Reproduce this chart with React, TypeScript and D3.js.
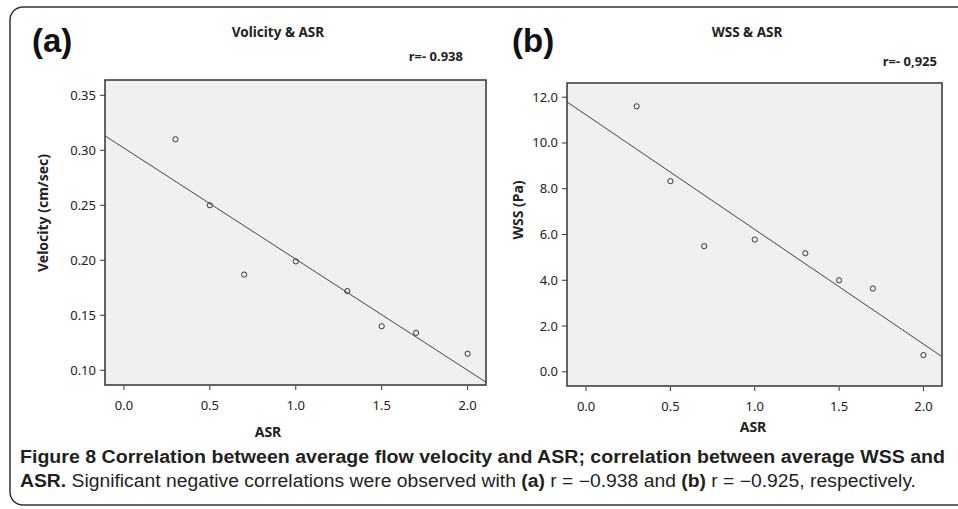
import React from "react";
import * as d3 from "d3";

const asr = [0.3, 0.5, 0.7, 1.0, 1.3, 1.5, 1.7, 2.0];
const velocity = [0.31, 0.25, 0.187, 0.199, 0.172, 0.14, 0.134, 0.115];
const wss = [11.6, 8.33, 5.49, 5.78, 5.18, 4.0, 3.64, 0.73];
const xTicks = [0.0, 0.5, 1.0, 1.5, 2.0];
const velTicks = [0.1, 0.15, 0.2, 0.25, 0.3, 0.35];
const wssTicks = [0, 2, 4, 6, 8, 10, 12];

const FONT = "'Noto Sans', 'Open Sans', sans-serif";
const CAP = "'Liberation Sans Narrow', 'Liberation Sans', Arial, sans-serif";

function fit(xs: number[], ys: number[]) {
  const mx = d3.mean(xs)!;
  const my = d3.mean(ys)!;
  let sxy = 0, sxx = 0;
  xs.forEach((x, i) => { sxy += (x - mx) * (ys[i] - my); sxx += (x - mx) ** 2; });
  const b = sxy / sxx;
  return { b, a: my - b * mx };
}

type PanelProps = {
  id: string; left: number; right: number; top: number; bottom: number;
  xDom: [number, number]; yDom: [number, number]; ys: number[]; yTicks: number[];
  yFmt: string; title: string; titleX: number; yTitle: string; yTitleX: number; yTitleY: number;
  xTitleX: number; xTitleY: number; label: string; labelX: number; rText: string; rX: number; rY: number;
};

function Panel(p: PanelProps) {
  const x = d3.scaleLinear().domain(p.xDom).range([p.left, p.right]);
  const y = d3.scaleLinear().domain(p.yDom).range([p.bottom, p.top]);
  const { a, b } = fit(asr, p.ys);
  const line = d3.line<number>().x(d => x(d)).y(d => y(a + b * d));
  const fmt = d3.format(p.yFmt);
  const fx = d3.format(".1f");
  return (
    <g>
      <defs>
        <clipPath id={"clip" + p.id}>
          <rect x={p.left} y={p.top} width={p.right - p.left} height={p.bottom - p.top} />
        </clipPath>
      </defs>
      <rect x={p.left} y={p.top} width={p.right - p.left} height={p.bottom - p.top} fill="#f0f0f0" stroke="#333" strokeWidth={1.5} />
      <path d={line(p.xDom) || ""} stroke="#444" strokeWidth={1} fill="none" clipPath={`url(#clip${p.id})`} />
      {asr.map((v, i) => (
        <circle key={i} cx={x(v)} cy={y(p.ys[i])} r={2.6} fill="none" stroke="#333" strokeWidth={1} />
      ))}
      {p.yTicks.map(t => (
        <g key={t}>
          <line x1={p.left - 5} x2={p.left} y1={y(t)} y2={y(t)} stroke="#333" strokeWidth={1} />
          <text x={p.left - 9} y={y(t) + 4.5} textAnchor="end" fontFamily={FONT} fontSize={13} fill="#222">{fmt(t)}</text>
        </g>
      ))}
      {xTicks.map(t => (
        <g key={t}>
          <line x1={x(t)} x2={x(t)} y1={p.bottom + 1} y2={p.bottom + 5} stroke="#333" strokeWidth={1} />
          <text x={x(t)} y={p.bottom + 25} textAnchor="middle" fontFamily={FONT} fontSize={13} fill="#222">{fx(t)}</text>
        </g>
      ))}
      <text x={p.titleX} y={37} textAnchor="middle" fontFamily={FONT} fontSize={13.5} fontWeight="bold" fill="#222">{p.title}</text>
      <text x={p.rX} y={p.rY} textAnchor="end" fontFamily={FONT} fontSize={13} fontWeight="bold" fill="#222">{p.rText}</text>
      <text transform={`translate(${p.yTitleX},${p.yTitleY}) rotate(-90)`} textAnchor="middle" fontFamily={FONT} fontSize={14} fontWeight="bold" fill="#222">{p.yTitle}</text>
      <text x={p.xTitleX} y={p.xTitleY} textAnchor="middle" fontFamily={FONT} fontSize={14} fontWeight="bold" fill="#222">ASR</text>
      <text x={p.labelX} y={52} fontFamily="'Liberation Sans', Arial, sans-serif" fontSize={33} fontWeight="bold" fill="#111">{p.label}</text>
    </g>
  );
}

export default function App() {
  return (
    <svg width={958} height={509} style={{ position: "absolute", left: 0, top: 0, background: "#fff" }}>
      <rect x={10} y={7} width={970} height={498} rx={13} fill="#fff" stroke="#333" strokeWidth={1.5} />
      <Panel id="a" left={105} right={486} top={80} bottom={385} xDom={[-0.11, 2.107]} yDom={[0.0866, 0.3639]}
        ys={velocity} yTicks={velTicks} yFmt=".2f" title="Volicity & ASR" titleX={278}
        yTitle="Velocity (cm/sec)" yTitleX={48} yTitleY={213} xTitleX={268} xTitleY={437}
        label="(a)" labelX={32} rText="r=- 0.938" rX={463} rY={61} />
      <Panel id="b" left={567} right={942} top={83} bottom={386} xDom={[-0.113, 2.11]} yDom={[-0.62, 12.62]}
        ys={wss} yTicks={wssTicks} yFmt=".1f" title="WSS & ASR" titleX={747}
        yTitle="WSS (Pa)" yTitleX={523} yTitleY={210} xTitleX={753} xTitleY={432}
        label="(b)" labelX={512} rText="r=- 0,925" rX={937} rY={66} />
      <text x={20} y={463} fontFamily={CAP} fontSize={17.5} fontWeight="bold" fill="#231f20" textLength={925} lengthAdjust="spacingAndGlyphs">
        Figure 8 Correlation between average flow velocity and ASR; correlation between average WSS and
      </text>
      <text x={20} y={487} fontFamily={CAP} fontSize={17.5} fill="#231f20" textLength={896} lengthAdjust="spacingAndGlyphs">
        <tspan fontWeight="bold">ASR.</tspan> Significant negative correlations were observed with <tspan fontWeight="bold">(a)</tspan> r = −0.938 and <tspan fontWeight="bold">(b)</tspan> r = −0.925, respectively.
      </text>
    </svg>
  );
}
